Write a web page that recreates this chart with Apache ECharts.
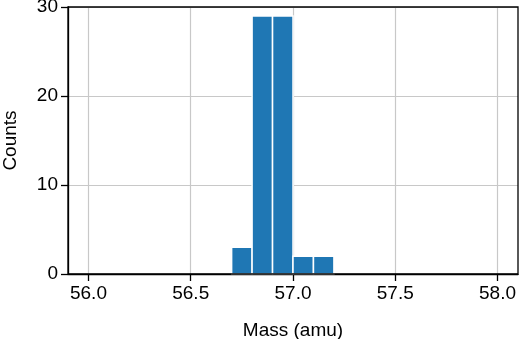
<!DOCTYPE html>
<html>
<head>
<meta charset="utf-8">
<script src="https://cdn.jsdelivr.net/npm/echarts@6/dist/echarts.min.js"></script>
<style>
  html, body { margin: 0; padding: 0; background: #fff; }
  #main { width: 520px; height: 339px; }
</style>
</head>
<body>
<div id="main"></div>
<script>
// histogram bins (amu) and counts
var binStart = [56.7, 56.8, 56.9, 57.0, 57.1];
var binEnd   = [56.8, 56.9, 57.0, 57.1, 57.2];
var counts   = [3, 29, 29, 2, 2];

var xTicks = [56.0, 56.5, 57.0, 57.5, 58.0];
var yTicks = [0, 10, 20, 30];

var histData = [];
for (var i = 0; i < counts.length; i++) {
    histData.push([binStart[i], binEnd[i], counts[i]]);
}

var font = 'Liberation Sans, Arial, sans-serif';

var chart = echarts.init(document.getElementById('main'));
chart.setOption({
    animation: false,
    grid: {
        left: 68, right: 2, top: 7, bottom: 65,
        outerBoundsMode: 'none',
        containLabel: false,
        show: true,
        borderColor: '#000',
        borderWidth: 1.3,
        z: 5
    },
    xAxis: {
        type: 'value',
        min: 55.9,
        max: 58.1,
        name: 'Mass (amu)',
        nameLocation: 'middle',
        nameGap: 47,
        nameTextStyle: { color: '#000', fontSize: 19, fontFamily: font },
        axisLine: { show: true, onZero: false, lineStyle: { color: '#000', width: 1.3 } },
        axisTick: {
            show: true, length: 7, lineStyle: { color: '#000', width: 1.3 },
            customValues: xTicks
        },
        axisLabel: {
            color: '#000', fontSize: 19, fontFamily: font, margin: 10,
            customValues: xTicks,
            formatter: function (v) { return v.toFixed(1); }
        },
        splitLine: { show: true, lineStyle: { color: '#c8c8c8', width: 1.2 } }
    },
    yAxis: {
        type: 'value',
        min: 0,
        max: 30,
        interval: 10,
        name: 'Counts',
        nameLocation: 'middle',
        nameGap: 48,
        nameTextStyle: { color: '#000', fontSize: 19, fontFamily: font },
        axisLine: { show: true, lineStyle: { color: '#000', width: 1.3 } },
        axisTick: {
            show: true, length: 7, lineStyle: { color: '#000', width: 1.3 },
            customValues: yTicks
        },
        axisLabel: {
            color: '#000', fontSize: 19, fontFamily: font, margin: 10,
            customValues: yTicks
        },
        splitLine: { show: true, lineStyle: { color: '#c8c8c8', width: 1.2 } }
    },
    series: [{
        type: 'custom',
        data: histData,
        encode: { x: [0, 1], y: 2 },
        renderItem: function (params, api) {
            var p0 = api.coord([api.value(0), api.value(2)]);
            var p1 = api.coord([api.value(1), 0]);
            return {
                type: 'rect',
                shape: { x: p0[0], y: p0[1], width: p1[0] - p0[0], height: p1[1] - p0[1] },
                style: { fill: '#1f77b4', stroke: '#fff', lineWidth: 1.5 }
            };
        }
    }]
});
</script>
</body>
</html>
